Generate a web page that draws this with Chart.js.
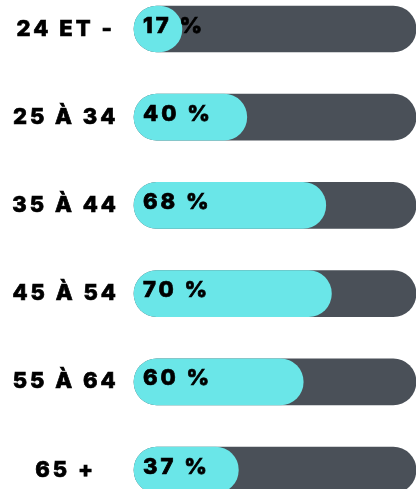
<!DOCTYPE html>
<html>
<head>
<meta charset="utf-8">
<script src="https://cdn.jsdelivr.net/npm/chart.js@4/dist/chart.umd.min.js"></script>
<style>
  html, body { margin: 0; padding: 0; background: #fff; overflow: hidden; }
  #wrap { width: 416px; height: 489px; }
</style>
</head>
<body>
<div id="wrap"><canvas id="ages-chart"></canvas></div>
<script>
// tranches d'age et parts (%)
const ageGroups = ['24 ET -', '25 À 34', '35 À 44', '45 À 54', '55 À 64', '65 +'];
const shares = [17, 40, 68, 70, 60, 37];
const totals = [100, 100, 100, 100, 100, 100];

const FONT = 'Inter, sans-serif';

// espacement des lettres (le canvas est remis a zero a chaque resize)
const spacing = {
    id: 'spacing',
    beforeLayout(chart) { chart.ctx.letterSpacing = '3px'; },
    beforeDraw(chart) { chart.ctx.letterSpacing = '3px'; }
};

// texte "xx %" dans la barre cyan
const valueLabels = {
    id: 'valueLabels',
    afterDatasetsDraw(chart) {
        const ctx = chart.ctx;
        const meta = chart.getDatasetMeta(0);
        ctx.save();
        ctx.letterSpacing = '3px';
        ctx.font = '800 22px ' + FONT;
        ctx.fillStyle = '#000';
        ctx.strokeStyle = '#000';
        ctx.lineWidth = 0.7;
        ctx.textAlign = 'left';
        ctx.textBaseline = 'middle';
        meta.data.forEach((bar, i) => {
            const txt = shares[i] + ' %';
            ctx.strokeText(txt, bar.base + 9, bar.y - 3);
            ctx.fillText(txt, bar.base + 9, bar.y - 3);
        });
        ctx.restore();
    }
};

const ctx = document.getElementById('ages-chart').getContext('2d');
new Chart(ctx, {
    type: 'bar',
    data: {
        labels: ageGroups,
        datasets: [
            { data: shares, backgroundColor: '#6ae6e8', borderSkipped: false, borderRadius: 23, barThickness: 46, grouped: false, clip: false },
            { data: totals, backgroundColor: '#4a5058', borderSkipped: false, borderRadius: 23, barThickness: 46, grouped: false, clip: false }
        ]
    },
    options: {
        indexAxis: 'y',
        responsive: true,
        maintainAspectRatio: false,
        animation: false,
        layout: { autoPadding: false, padding: { top: 29, bottom: 19, left: 0, right: 0 } },
        plugins: { legend: { display: false }, tooltip: { enabled: false } },
        scales: {
            x: { display: false, min: 0, max: 100 },
            y: {
                offset: false,
                border: { display: false },
                grid: { display: false, drawTicks: false },
                ticks: {
                    color: '#000',
                    textStrokeColor: '#000',
                    textStrokeWidth: 0.7,
                    crossAlign: 'center',
                    padding: 15,
                    font: { family: FONT, size: 22, weight: 800 }
                },
                afterFit(scale) {
                    scale.width = 134;
                    scale.paddingTop = 0;
                    scale.paddingBottom = 0;
                }
            }
        }
    },
    plugins: [spacing, valueLabels]
});
</script>
</body>
</html>
